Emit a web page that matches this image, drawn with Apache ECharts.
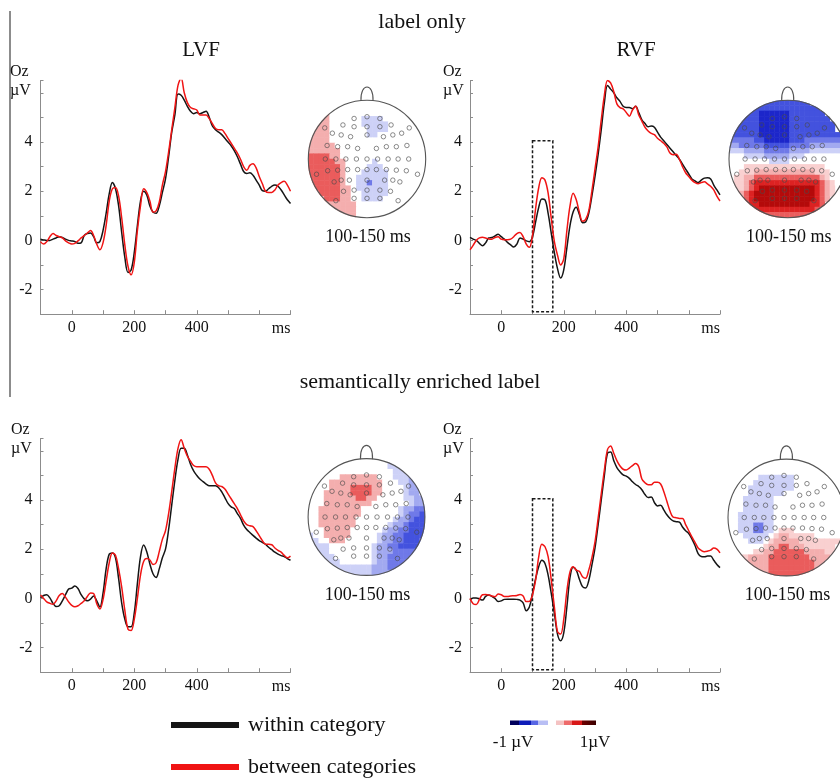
<!DOCTYPE html>
<html><head><meta charset="utf-8">
<script src="https://cdn.jsdelivr.net/npm/echarts@6/dist/echarts.min.js"></script>
<style>html,body{margin:0;padding:0;background:#fff}#c{width:840px;height:778px}</style>
</head><body><div id="c"></div>
<script>
// ---------- DATA ----------
const timeMs = [-100,-90,-80,-70,-60,-50,-40,-30,-20,-10,0,10,20,30,40,50,60,70,80,90,100,110,120,130,140,150,160,170,180,190,200,210,220,230,240,250,260,270,280,290,300,310,320,330,340,350,360,370,380,390,400,410,420,430,440,450,460,470,480,490,500,510,520,530,540,550,560,570,580,590,600,610,620,630,640,650,660,670,680,690,700];

const lvfLabelWithin = [0.05,0.02,0.0,0.0,0.05,0.1,0.15,0.12,0.05,0.0,
 -0.02,-0.05,-0.12,-0.1,0.2,0.28,0.3,0.15,-0.1,-0.05,
 0.4,1.1,1.9,2.35,2.1,1.4,0.3,-0.7,-1.3,-1.2,
 -0.5,0.6,1.6,2.0,1.85,1.4,1.15,1.1,1.4,1.95,
 2.5,3.4,4.4,5.1,5.95,5.9,5.7,5.45,5.25,5.15,
 5.2,5.15,5.2,5.25,5.0,4.65,4.5,4.4,4.3,4.15,
 4.0,3.85,3.65,3.4,3.1,2.8,2.72,2.75,2.65,2.45,
 2.25,2.02,2.0,2.1,2.2,2.25,2.2,2.05,1.85,1.65,
 1.5];
const lvfLabelBetween = [-0.05,-0.15,-0.05,0.15,0.28,0.2,0.15,0.1,-0.02,-0.1,
 -0.15,-0.12,-0.02,0.1,0.2,0.3,0.4,0.2,-0.15,-0.38,
 -0.1,0.6,1.6,2.1,2.15,1.8,0.9,-0.2,-1.05,-1.4,
 -0.9,0.4,1.4,2.1,1.95,1.6,1.15,1.2,1.55,2.25,
 2.8,3.6,4.5,5.4,6.3,6.6,6.0,5.6,5.4,5.35,
 5.3,5.1,5.1,5.1,4.95,4.75,4.55,4.5,4.5,4.35,
 4.15,3.95,3.75,3.55,3.3,3.0,2.85,3.05,3.12,2.95,
 2.6,2.3,2.0,1.95,1.95,2.05,2.25,2.35,2.4,2.25,
 2.0];
const rvfLabelWithin = [0.12,0.05,0.0,-0.12,-0.22,-0.1,0.1,0.12,0.18,0.25,
 0.15,0.05,-0.08,-0.18,-0.27,-0.15,0.1,0.05,-0.02,-0.05,
 0.15,0.75,1.35,1.68,1.65,1.1,0.3,-0.5,-1.15,-1.53,
 -1.2,-0.3,0.6,1.15,1.35,1.05,0.72,0.75,1.1,1.8,
 2.6,3.5,4.5,5.6,6.3,6.15,6.0,5.8,5.65,5.45,
 5.4,5.4,5.35,5.45,5.2,4.9,4.75,4.62,4.65,4.6,
 4.4,4.2,4.05,3.9,3.75,3.6,3.45,3.3,3.1,2.9,
 2.7,2.5,2.42,2.35,2.45,2.53,2.55,2.5,2.25,2.05,
 1.85];
const rvfLabelBetween = [-0.38,-0.2,0.0,0.1,0.13,0.1,0.06,0.05,0.12,0.15,
 0.05,0.03,0.03,0.05,0.15,0.28,0.32,0.15,-0.15,-0.28,
 0.2,1.3,2.15,2.55,2.45,1.92,0.9,-0.05,-0.6,-1.0,
 -0.75,0.4,1.4,1.92,1.65,1.15,0.78,0.85,1.2,2.0,
 2.9,3.8,4.9,5.9,6.5,6.4,6.05,5.55,5.4,5.35,
 5.2,5.05,5.3,5.45,5.1,4.85,4.6,4.45,4.35,4.3,
 4.15,4.05,3.95,3.8,3.55,3.48,3.5,3.3,3.0,2.75,
 2.6,2.45,2.35,2.3,2.35,2.38,2.3,2.2,2.05,1.8,
 1.6];
const lvfSemWithin = [0.03,0.12,0.15,0.02,-0.2,-0.33,-0.3,-0.1,0.15,0.38,
 0.42,0.5,0.4,0.15,-0.02,-0.1,-0.03,0.1,-0.1,-0.35,
 0.2,1.2,1.8,1.85,1.65,0.8,-0.2,-0.85,-1.15,-1.15,
 -0.6,0.6,1.7,2.17,1.9,1.4,1.0,0.85,1.2,1.65,
 2.0,2.8,3.8,4.8,5.65,6.1,6.1,5.83,5.45,5.18,
 5.0,4.85,4.75,4.65,4.58,4.58,4.58,4.5,4.33,4.1,
 3.86,3.72,3.65,3.45,3.25,2.98,2.8,2.68,2.56,2.45,
 2.35,2.28,2.2,2.08,1.98,1.88,1.8,1.74,1.7,1.62,
 1.55];
const lvfSemBetween = [0.14,0.0,-0.14,-0.2,-0.24,-0.1,0.12,0.2,0.05,-0.14,
 -0.28,-0.34,-0.3,-0.2,-0.1,0.08,0.22,0.2,-0.22,-0.43,
 -0.05,0.7,1.45,1.85,1.75,1.2,0.45,-0.5,-1.25,-1.3,
 -0.85,0.0,0.95,1.5,1.62,1.56,1.38,1.45,1.9,2.4,
 2.75,3.45,4.35,5.3,6.1,6.45,6.1,5.78,5.58,5.4,
 5.35,5.35,5.35,5.35,5.25,5.0,4.7,4.58,4.55,4.45,
 4.25,4.05,3.85,3.65,3.4,3.15,3.0,2.95,2.92,2.75,
 2.55,2.35,2.2,2.2,2.18,2.05,1.95,1.88,1.75,1.65,
 1.72];
const rvfSemWithin = [-0.07,0.02,0.02,-0.02,-0.07,0.08,0.14,0.08,0.0,-0.13,
 -0.1,-0.04,-0.03,-0.03,-0.03,-0.04,-0.07,-0.18,-0.5,-0.35,
 0.2,0.8,1.3,1.55,1.42,0.95,0.2,-0.6,-1.45,-1.72,
 -1.4,-0.35,0.85,1.27,1.15,0.78,0.48,0.42,0.72,1.35,
 2.05,3.0,4.0,5.0,5.9,5.95,5.6,5.32,5.15,5.02,
 4.97,4.88,4.74,4.63,4.55,4.42,4.22,4.1,4.12,3.9,
 3.76,3.79,3.6,3.4,3.25,3.15,3.12,3.1,2.9,2.75,
 2.64,2.42,2.15,1.82,1.7,1.69,1.72,1.72,1.55,1.38,
 1.25];
const rvfSemBetween = [0.0,-0.22,-0.25,-0.05,0.15,0.16,0.14,0.1,0.07,0.18,
 0.15,0.08,0.08,0.1,0.11,0.12,0.16,0.1,-0.13,-0.12,
 0.15,0.75,1.7,2.2,2.1,1.7,0.75,-0.35,-1.35,-1.45,
 -0.85,0.3,1.08,1.29,1.15,1.1,0.88,0.82,1.15,1.65,
 2.3,3.25,4.25,5.22,6.05,6.2,5.9,5.6,5.38,5.25,
 5.22,5.3,5.4,5.48,5.35,4.85,4.7,4.62,4.62,4.72,
 4.72,4.65,4.35,3.95,3.55,3.3,3.28,3.25,3.25,3.0,
 2.75,2.5,2.28,2.05,1.95,1.9,1.92,1.96,2.05,2.0,
 1.85];

// analysis window marked on RVF panels
const boxWindowMs = [100, 165];
const boxRangeUv = [-2.9, 4.05];

const yTickLabels = [-2, 0, 2, 4];
const xTickLabels = [0, 200, 400];

// topographies (100-150 ms), 22x22 grid over the head, rows top->bottom
// levels: A..E blue (A strongest), '.' ~0, e..i red (i strongest)
const topoLabelLVF = [
"......................",
"......................",
"...f..................",
"..ff......EEEE........",
".fff......EEEEE.......",
".fff.......EEEE.......",
"ffff.......EE.........",
"ffff..................",
"fffff.................",
"ffffff................",
"ggggff................",
"gggggff.....E.........",
"ggggggf....EEE........",
"ggggggf...EEEEE.......",
"ggggggf..EEEEEE.......",
"ggggggf..EECEEE.......",
".gggggff.EEEEEE.......",
".fggggff..EEEEE.......",
"..fgggff..EEEE........",
"...ffffff.............",
"....fffff.............",
"......fff............."];
const topoLabelRVF = [
"......BBBBBBBBBB......",
"....BBBBBBBBBBBBBB....",
"...BBBAAAAAABBBBBBB...",
"..BBBBAAAAAABBBBBBBB..",
".BBBBBAAAAAABBBBBBBBB.",
".BBBBBAAAAAABBBBBBBBB.",
"CBBBBBAAAAAABBBBBBBBBB",
"CCCCCBBAAAAABBBCCCCCCC",
"DDCCCCCBBBBBCCCCDDDDDD",
"EEEDDDDCCCCCDDDDEEEEEE",
"...EEEEDDDDDEEE.......",
"........EEEE..........",
"...eeeeeeeeeeeeeeee...",
"..eeeffffffffffffeee..",
".eeffgggggggggggggfe..",
".eefghhhhhhhhhhhhhgfe.",
".eefghiiiiiiiiiiihgfe.",
".efghiiiiiiiiiiiihgfe.",
"..fghiiiiiiiiiiiihgf..",
"...ghhiiiiiiiiiihhg...",
"....ghhhhhhhhhhhhg....",
"......gggggggggg......"];
const topoSemLVF = [
"...............E......",
"...............EEE....",
"................EEE...",
"......fffffff...EEED..",
"....ffffffffff...EEDD.",
"....ffffggggff....EDD.",
"...fffffggggff....EDD.",
"...ffffffggff.....EEDD",
"...fffffffff.......EDD",
"..ffffffff.......EDDCC",
"..ffffffff.......EDCCB",
"..fffffff.......EDDCBB",
"..fffffff......EDDCBBB",
"...fffff......EDDCCBBB",
"E..fffff.....EDDCCBBBB",
"EE..fff......EDDCCBBBC",
".EEE........EDDCCBBBB.",
".EEE........EDDDCCCCC.",
"..EEE.......EDDCCCCC..",
"...EEE......EDDCCCC...",
"....EEEEEEEEDDDCCC....",
"......EEEEEEDDDD......"];
const topoSemRVF = [
"......................",
"......................",
"......................",
"......EEEEEEE.........",
".....EEEEEEEE.........",
"....EEEEEEEEE.........",
"....EEEEEEE...........",
"...EEEEEE.............",
"...EEEEEE.............",
"...EEEEEE.............",
"..EEEEEEE.............",
"..EEEEEEE.............",
"..EEECCEE.............",
"..EEECCEE.eee.........",
"...EEEEE.effeeeee.....",
"....EEE.efffffeeeeeeee",
".......effggfffeeeeee.",
".....eeffggggggffffee.",
"..eeffffggggggggffff..",
"...fffffgggggggggff...",
"....ffffgggggggggf....",
"......ffgggggggg......"];

// electrode positions (normalized head coordinates, y up)
const electrodeXY = [
 [-0.22,0.69],[0,0.72],[0.22,0.69],
 [-0.72,0.53],[-0.41,0.58],[-0.22,0.55],[0,0.55],[0.22,0.55],[0.41,0.58],[0.72,0.53],
 [-0.59,0.44],[-0.44,0.41],[-0.28,0.38],[0,0.41],[0.28,0.38],[0.44,0.41],[0.59,0.44],
 [-0.68,0.23],[-0.5,0.21],[-0.33,0.21],[-0.16,0.18],[0.16,0.18],[0.33,0.21],[0.5,0.21],[0.68,0.23],
 [-0.71,0],[-0.53,0],[-0.36,0],[-0.18,0],[0,0],[0.18,0],[0.36,0],[0.53,0],[0.71,0],
 [-0.86,-0.26],[-0.67,-0.2],[-0.5,-0.19],[-0.33,-0.18],[-0.16,-0.18],[0,-0.18],[0.16,-0.18],[0.33,-0.18],[0.5,-0.19],[0.67,-0.2],[0.86,-0.26],
 [-0.56,-0.39],[-0.44,-0.36],[-0.3,-0.36],[0,-0.36],[0.3,-0.36],[0.44,-0.36],[0.56,-0.39],
 [-0.4,-0.55],[-0.22,-0.53],[0,-0.53],[0.22,-0.53],[0.4,-0.55],
 [-0.53,-0.71],[-0.22,-0.67],[0,-0.67],[0.22,-0.67],[0.53,-0.71]
];

const levelOfChar = {A:-5,B:-4,C:-3,D:-2,E:-1,'.':0,e:1,f:2,g:3,h:4,i:5};
const levelColors = {'-5':'#1c26ca','-4':'#4352de','-3':'#6f79e8','-2':'#a2a9f0','-1':'#cdd1f7',
  '0':'#ffffff','1':'#f9d0d0','2':'#f4aeae','3':'#ea5c5c','4':'#dc2222','5':'#b40a0a'};

// ---------- BUILD ----------
const FONT = '"Liberation Serif", "Times New Roman", serif';
const BLACK = '#151515', RED = '#f01414';
const chart = echarts.init(document.getElementById('c'));

const linePanels = [
 {within: lvfLabelWithin, between: lvfLabelBetween, left:40.5, top:80.5, box:false},
 {within: rvfLabelWithin, between: rvfLabelBetween, left:470, top:80.5, box:true},
 {within: lvfSemWithin, between: lvfSemBetween, left:40.5, top:438.5, box:false},
 {within: rvfSemWithin, between: rvfSemBetween, left:470, top:438.5, box:true}
];
const mapPanels = [
 {rows: topoLabelLVF, cx:367, cy:159, r:58.7},
 {rows: topoLabelRVF, cx:787.7, cy:159, r:58.7},
 {rows: topoSemLVF, cx:366.5, cy:517, r:58.4},
 {rows: topoSemRVF, cx:786.4, cy:517.5, r:58.4}
];

const grids = [], xAxes = [], yAxes = [], series = [];
const axisColor = '#8c8c8c';
linePanels.forEach((p, k) => {
  grids.push({left:p.left, top:p.top, width:250, height:233.7});
  xAxes.push({type:'value', gridIndex:k, min:-100, max:700, interval:100,
    axisLine:{onZero:false, lineStyle:{color:axisColor, width:1}},
    axisTick:{inside:true, length:4, lineStyle:{color:axisColor}},
    axisLabel:{formatter:v => xTickLabels.includes(v) ? String(v) : '', fontFamily:FONT, fontSize:16, color:'#111', margin:6},
    splitLine:{show:false},
    name:'ms', nameLocation:'end', nameGap:0,
    nameTextStyle:{align:'right', verticalAlign:'top', padding:[7,0,0,0], fontFamily:FONT, fontSize:16, color:'#111'}});
  yAxes.push({type:'value', gridIndex:k, min:-3, max:6.5, interval:1,
    axisLine:{show:true, onZero:false, lineStyle:{color:axisColor, width:1}},
    axisTick:{show:true, inside:true, length:3, lineStyle:{color:axisColor}},
    axisLabel:{formatter:v => yTickLabels.includes(v) ? String(v) : '', fontFamily:FONT, fontSize:16, color:'#111', margin:8},
    splitLine:{show:false}});
});
const cats = Array.from({length:22}, (_, i) => i);
mapPanels.forEach((m, k) => {
  grids.push({left:m.cx - m.r, top:m.cy - m.r, width:2*m.r, height:2*m.r});
});
mapPanels.forEach((m, k) => {
  xAxes.push({type:'category', gridIndex:4+k, data:cats, show:false});
  yAxes.push({type:'category', gridIndex:4+k, data:cats, inverse:true, show:false});
});
mapPanels.forEach((m, k) => {
  xAxes.push({type:'value', gridIndex:4+k, min:-1, max:1, show:false});
  yAxes.push({type:'value', gridIndex:4+k, min:-1, max:1, show:false});
});

linePanels.forEach((p, k) => {
  series.push({name:'within category', type:'line', xAxisIndex:k, yAxisIndex:k,
    data:timeMs.map((t, i) => [t, p.within[i]]), showSymbol:false, smooth:0.35,
    color:BLACK, lineStyle:{color:BLACK, width:1.5}, silent:true, z:3});
  const red = {name:'between categories', type:'line', xAxisIndex:k, yAxisIndex:k,
    data:timeMs.map((t, i) => [t, p.between[i]]), showSymbol:false, smooth:0.35,
    color:RED, lineStyle:{color:RED, width:1.5}, silent:true, z:3};
  if (p.box) {
    red.markArea = {silent:true,
      itemStyle:{color:'rgba(0,0,0,0)', borderColor:'#1a1a1a', borderWidth:1.5, borderType:[3,2]},
      data:[[{xAxis:boxWindowMs[0], yAxis:boxRangeUv[1]}, {xAxis:boxWindowMs[1], yAxis:boxRangeUv[0]}]]};
  }
  series.push(red);
});
function topoCells(rows) {
  const n = rows.length, out = [];
  for (let j = 0; j < n; j++) for (let i = 0; i < n; i++) {
    const nx = -1 + (i + 0.5) * 2 / n, ny = 1 - (j + 0.5) * 2 / n;
    if (nx*nx + ny*ny > 1.07*1.07) continue;
    const ch = rows[j][i] || '.';
    out.push([i, j, levelOfChar[ch] !== undefined ? levelOfChar[ch] : 0]);
  }
  return out;
}
mapPanels.forEach((m, k) => {
  series.push({type:'heatmap', xAxisIndex:4+k, yAxisIndex:4+k, data:topoCells(m.rows),
    silent:true, emphasis:{disabled:true}, progressive:0});
});
mapPanels.forEach((m, k) => {
  series.push({type:'scatter', xAxisIndex:8+k, yAxisIndex:8+k, data:electrodeXY,
    symbol:'circle', symbolSize:4.5, silent:true, z:5,
    itemStyle:{color:'rgba(255,255,255,0)', borderColor:'#4a4a4a', borderWidth:0.8}});
});

// ---------- GRAPHIC (text, head outlines, colour bar) ----------
const g = [];
function txt(text, x, y, size, align) {
  g.push({type:'text', x:x, y:y, silent:true, z:70,
    style:{text:text, fill:'#111', font:size + 'px ' + FONT, align:align || 'center', verticalAlign:'middle'}});
}
txt('label only', 422, 22, 22);
txt('LVF', 201, 50, 21);
txt('RVF', 636, 50, 21);
txt('semantically enriched label', 420, 382, 22);
[[10,72,91],[443,72,91],[11,430,449],[443,430,449]].forEach(a => { txt('Oz', a[0], a[1], 16, 'left'); txt('µV', a[0], a[2], 16, 'left'); });
g.push({type:'line', silent:true, shape:{x1:10, y1:11, x2:10, y2:397}, style:{stroke:'#666', lineWidth:1.5}});
mapPanels.forEach(m => {
  g.push({type:'circle', silent:true, z:50, shape:{cx:m.cx, cy:m.cy, r:m.r + 4.6}, style:{fill:'none', stroke:'#fff', lineWidth:8}});
  g.push({type:'circle', silent:true, z:60, shape:{cx:m.cx, cy:m.cy, r:m.r}, style:{fill:'none', stroke:'#555', lineWidth:1.1}});
  const top = m.cy - m.r + 0.6;
  g.push({type:'bezierCurve', silent:true, z:60, shape:{x1:m.cx-6, y1:top, cpx1:m.cx-7, cpy1:top-18.5, cpx2:m.cx+7, cpy2:top-18.5, x2:m.cx+6, y2:top},
    style:{fill:'none', stroke:'#555', lineWidth:1.1}});
  txt('100-150 ms', m.cx + 1, m.cy + 78, 18);
});
const barStops = [
 [0,'#00005c'],[0.11,'#00005c'],[0.11,'#0d1cb8'],[0.24,'#0d1cb8'],[0.24,'#5866e4'],[0.33,'#5866e4'],[0.33,'#b8bef4'],[0.44,'#b8bef4'],
 [0.44,'#ffffff'],[0.54,'#ffffff'],[0.54,'#f4c2c2'],[0.63,'#f4c2c2'],[0.63,'#ee6a6a'],[0.72,'#ee6a6a'],[0.72,'#d81818'],[0.84,'#d81818'],
 [0.84,'#6e0000'],[1,'#3a0000']];
g.push({type:'rect', silent:true, shape:{x:510, y:720.5, width:86, height:4.5},
  style:{fill:new echarts.graphic.LinearGradient(0,0,1,0, barStops.map(s => ({offset:s[0], color:s[1]})))}});
txt('-1 µV', 513, 743, 17);
txt('1µV', 595, 743, 17);

chart.setOption({
  animation:false,
  backgroundColor:'#ffffff',
  textStyle:{fontFamily:FONT},
  grid:grids, xAxis:xAxes, yAxis:yAxes, series:series,
  visualMap:{type:'piecewise', show:false, dimension:2, seriesIndex:[8,9,10,11],
    pieces:Object.keys(levelColors).map(k => ({value:Number(k), color:levelColors[k]}))},
  legend:{data:['within category','between categories'], orient:'vertical', left:171, top:714, padding:0,
    itemWidth:68, itemHeight:6, itemGap:20, icon:'rect', selectedMode:false,
    textStyle:{fontFamily:FONT, fontSize:22, color:'#111', lineHeight:22, padding:[0,0,0,4]}},
  graphic:{elements:g}
});
</script></body></html>
